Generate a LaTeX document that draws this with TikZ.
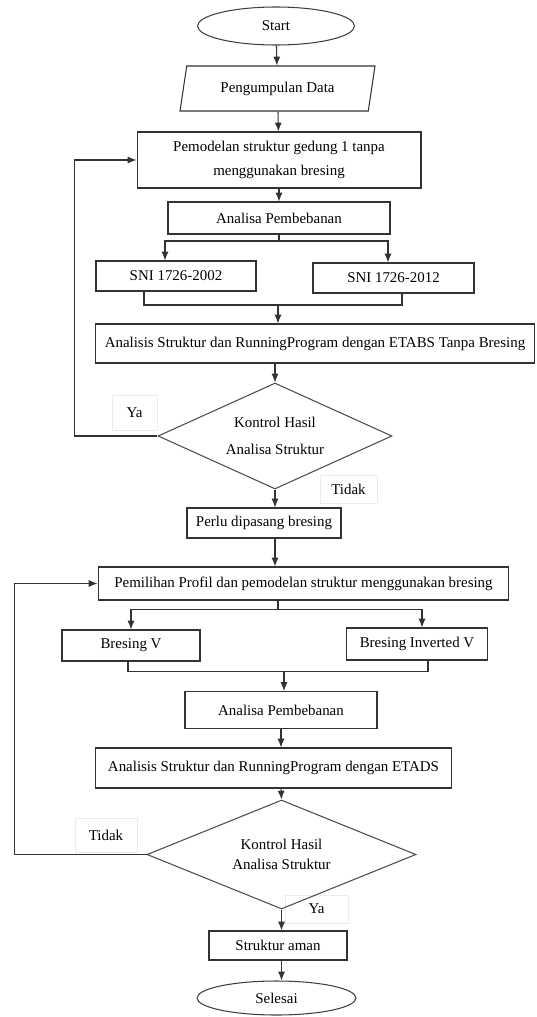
\documentclass[tikz,border=0pt]{standalone}
\usepackage{fontspec}
\setmainfont{Liberation Serif}
\usetikzlibrary{shapes.geometric,arrows.meta,positioning,calc}

\begin{document}
\begin{tikzpicture}[
  x=0.02cm, y=-0.02cm,
  font=\fontsize{8.5}{11}\selectfont,
  proc/.style={
    rectangle, draw=black!80, line width=0.6pt, align=center, inner sep=2pt
  },
  term/.style={
    ellipse, draw=black!75, line width=0.6pt, inner sep=1pt
  },
  io/.style={
    trapezium, trapezium left angle=72, trapezium right angle=108,
    trapezium stretches body, draw=black!80, line width=0.6pt, inner sep=2pt
  },
  cond/.style={
    diamond, aspect=2.5, draw=black!70, line width=0.6pt, align=center, inner sep=0pt
  },
  tag/.style={rectangle, draw=black!8, line width=0.5pt, inner sep=1pt},
  line/.style={draw=black!80, line width=0.6pt},
  arr/.style={-{Latex[length=5pt,width=4pt]}, line}
]
\useasboundingbox (0,0) rectangle (537,1017);

\node[term, minimum width=3.14cm, minimum height=0.76cm] (start) at (276,26) {Start};
\node[io, minimum width=3.9cm, minimum height=0.9cm] (data) at (277.5,88.5) {Pengumpulan Data};
\node[proc, minimum width=5.68cm, minimum height=1.12cm] (model1) at (279,160) {Pemodelan struktur gedung 1 tanpa\\[3pt]menggunakan bresing};
\node[proc, minimum width=4.44cm, minimum height=0.64cm] (load1) at (279,218) {Analisa Pembebanan};
\node[proc, minimum width=3.2cm, minimum height=0.6cm] (sni02) at (176,276) {SNI 1726-2002};
\node[proc, minimum width=3.22cm, minimum height=0.6cm] (sni12) at (393.5,278) {SNI 1726-2012};
\node[proc, minimum width=8.8cm, minimum height=0.78cm] (etabs1) at (315,343.5) {Analisis Struktur dan RunningProgram dengan ETABS Tanpa Bresing};
\node[tag, minimum width=0.9cm, minimum height=0.7cm] (ya1) at (134.5,412.5) {Ya};
\node[tag, minimum width=1.14cm, minimum height=0.56cm] (tidak1) at (348.5,489) {Tidak};
\node[cond, minimum width=4.68cm, minimum height=2.12cm] (check1) at (275,436) {Kontrol Hasil\\[4pt]Analisa Struktur};
\node[proc, minimum width=3.08cm, minimum height=0.6cm] (perlu) at (264,523) {Perlu dipasang bresing};
\node[proc, minimum width=8.22cm, minimum height=0.66cm] (profil) at (303.5,583.5) {Pemilihan Profil dan pemodelan struktur menggunakan bresing};
\node[proc, minimum width=2.76cm, minimum height=0.62cm] (bv) at (131,645.5) {Bresing V};
\node[proc, minimum width=2.81cm, minimum height=0.64cm] (biv) at (417,644) {Bresing Inverted V};
\node[proc, minimum width=3.84cm, minimum height=0.74cm] (load2) at (281,710) {Analisa Pembebanan};
\node[proc, minimum width=7.14cm, minimum height=0.8cm] (etads) at (273.5,768) {Analisis Struktur dan RunningProgram dengan ETADS};
\node[tag, minimum width=1.24cm, minimum height=0.68cm] (tidak2) at (106,835) {Tidak};
\node[tag, minimum width=1.26cm, minimum height=0.56cm] (ya2) at (316.5,909) {Ya};
\node[cond, minimum width=5.38cm, minimum height=2.18cm] (check2) at (281.5,854.5) {Kontrol Hasil\\Analisa Struktur};
\node[proc, minimum width=2.76cm, minimum height=0.58cm] (aman) at (278,945.5) {Struktur aman};
\node[term, minimum width=3.18cm, minimum height=0.68cm] (finish) at (276.5,998) {Selesai};

\foreach \a/\b in {start/data, data/model1, model1/load1}
  \draw[arr] (\a) -- (\b);

% split and merge, SNI
\coordinate (split1) at (279,241);
\coordinate (join1) at (278,305);
\draw[line] (load1) -- (split1);
\draw[arr] (split1) -| ([xshift=-0.22cm]sni02.north);
\draw[arr] (split1) -| ([xshift=-0.11cm]sni12.north);
\draw[line] ([xshift=-0.64cm]sni02.south) |- (join1);
\draw[line] ([xshift=0.17cm]sni12.south) |- (join1);
\draw[arr] (join1) -- (join1 |- etabs1.north);
\draw[arr] (check1.north |- etabs1.south) -- (check1.north);
\draw[arr] (check1.south) -- (check1.south |- perlu.north);
\draw[arr] (check1.south |- perlu.south) -- (check1.south |- profil.north);
\draw[arr] (check1.west) -- ++(-83,0) |- (model1.west);

% split and merge, bresing
\coordinate (split2) at (278,609.5);
\coordinate (join2) at (284,671.5);
\draw[line] (split2 |- profil.south) -- (split2);
\draw[arr] (split2) -| (bv.north);
\draw[arr] (split2) -| ([xshift=0.1cm]biv.north);
\draw[line] ([xshift=-0.06cm]bv.south) |- (join2);
\draw[line] ([xshift=0.22cm]biv.south) |- (join2);
\draw[arr] (join2) -- (join2 |- load2.north);
\draw[arr] (load2.south) -- (load2.south |- etads.north);
\draw[arr] (load2.south |- etads.south) -- (check2.north);
\draw[arr] (check2.south) -- (check2.south |- aman.north);
\draw[arr] (check2.south |- aman.south) -- (check2.south |- finish.north);
\draw[arr] (check2.west) -- ++(-132,0) |- (profil.west);

\end{tikzpicture}
\end{document}
